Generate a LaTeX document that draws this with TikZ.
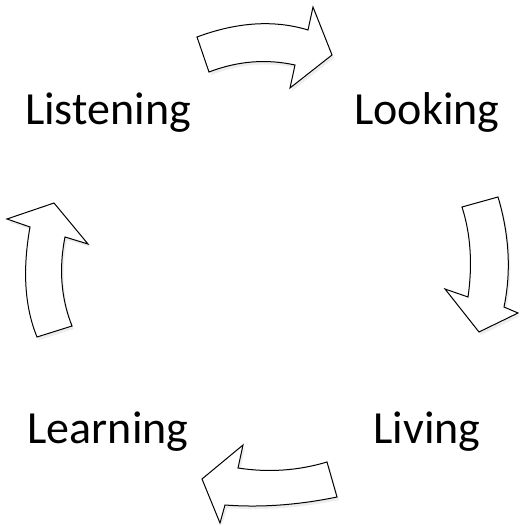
\documentclass[tikz,border=0pt]{standalone}
\usepackage{fontspec}
\setmainfont{Carlito}
\begin{document}
\begin{tikzpicture}[x=1pt,y=-1pt,
  lbl/.style={anchor=base,inner sep=0pt,font=\fontsize{46}{55}\selectfont},
  arrowshape/.style={draw=black,fill=white,line width=1pt,line join=miter},
  shadowshape/.style={fill=black,opacity=0.07}]
\useasboundingbox (0,0) rectangle (520,526);
% labels
\node[lbl] (listening) at (108,125) {Listening};
\node[lbl] (looking) at (427,125) {Looking};
\node[lbl] (learning) at (108,443) {Learning};
\node[lbl] (living) at (427,443) {Living};
% shadows
\begin{scope}[shift={(2,3)}]
\fill[shadowshape] (197,37) .. controls (237.3,22) and (274.3,19.7) .. (308,30) -- (313,7) -- (332,55) -- (290,88) -- (295,65) .. controls (266.3,58.7) and (237.7,61) .. (209,72) -- cycle;
\fill[shadowshape] (462,207) -- (498,197) .. controls (509.3,235) and (511.3,271.7) .. (504,307) -- (518,313) -- (479,332) -- (445,289) -- (468,297) .. controls (472.7,264.3) and (470.7,234.3) .. (462,207) -- cycle;
\fill[shadowshape] (327,462) .. controls (298,470.7) and (268.3,472.7) .. (238,468) -- (243,445) -- (202,479) -- (220,522) -- (225,505) .. controls (261,507.7) and (298.3,505) .. (337,497) -- cycle;
\fill[shadowshape] (37,337) -- (72,326) .. controls (61,298.3) and (58.7,268.7) .. (65,237) -- (88,244) -- (54,203) -- (7,219) -- (30,227) .. controls (22.3,270.3) and (24.7,307) .. (37,337) -- cycle;
\end{scope}
% top arrow (Listening -> Looking)
\draw[arrowshape] (197,37) .. controls (237.3,22) and (274.3,19.7) .. (308,30) -- (313,7) -- (332,55) -- (290,88) -- (295,65) .. controls (266.3,58.7) and (237.7,61) .. (209,72) -- cycle;
% right arrow (Looking -> Living)
\draw[arrowshape] (462,207) -- (498,197) .. controls (509.3,235) and (511.3,271.7) .. (504,307) -- (518,313) -- (479,332) -- (445,289) -- (468,297) .. controls (472.7,264.3) and (470.7,234.3) .. (462,207) -- cycle;
% bottom arrow (Living -> Learning)
\draw[arrowshape] (327,462) .. controls (298,470.7) and (268.3,472.7) .. (238,468) -- (243,445) -- (202,479) -- (220,523) -- (225,505) .. controls (261,507.7) and (298.3,505) .. (337,497) -- cycle;
% left arrow (Learning -> Listening)
\draw[arrowshape] (37,337) -- (72,326) .. controls (61,298.3) and (58.7,268.7) .. (65,237) -- (88,244) -- (54,203) -- (7,219) -- (30,227) .. controls (22.3,270.3) and (24.7,307) .. (37,337) -- cycle;
\end{tikzpicture}
\end{document}
